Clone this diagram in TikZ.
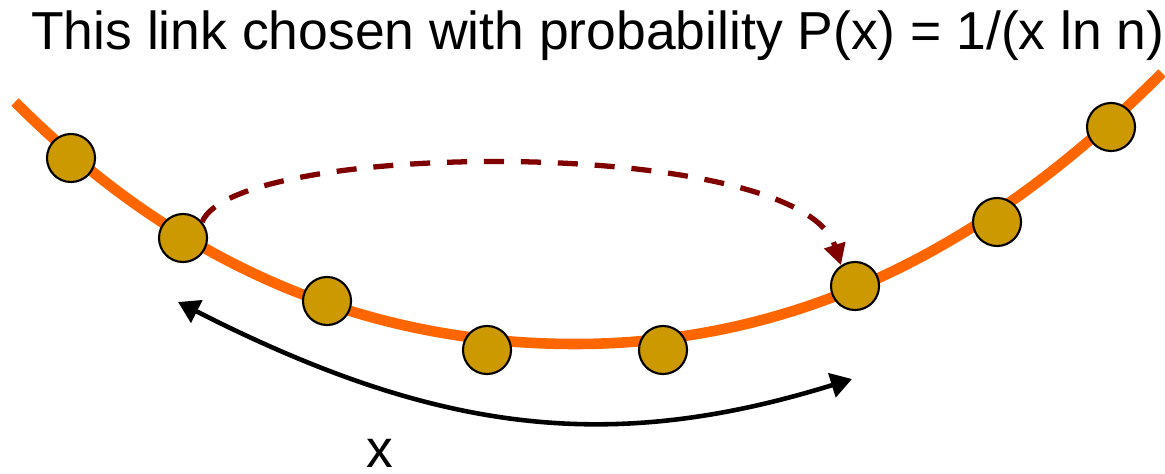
\documentclass[tikz,border=0pt]{standalone}
\usepackage{fontspec}
\setmainfont{Liberation Sans}
\usetikzlibrary{arrows.meta,backgrounds}
\definecolor{ringorange}{HTML}{FF6600}
\definecolor{peergold}{HTML}{CC9900}
\definecolor{linkred}{HTML}{800000}
\tikzset{
  peer/.style={circle, draw=black, line width=0.6pt, fill=peergold, minimum size=0.48cm, inner sep=0pt},
  ring/.style={ringorange, line width=3pt},
  longlink/.style={linkred, line width=1.5pt, dash pattern=on 5.7pt off 4.8pt, -{Triangle[length=6pt,width=6pt]}},
  span/.style={black, line width=1.3pt, {Triangle[length=6pt,width=7pt]}-{Triangle[length=6pt,width=7pt]}},
  label/.style={font=\fontsize{15.2}{18}\selectfont}
}
\begin{document}
\begin{tikzpicture}[x=0.01cm, y=-0.01cm]
  \useasboundingbox (0,0) rectangle (1165,473);
  \node[peer] (n1) at (71,158) {};
  \node[peer] (n2) at (183,238) {};
  \node[peer] (n3) at (327,301) {};
  \node[peer] (n4) at (487,350) {};
  \node[peer] (n5) at (663,350) {};
  \node[peer] (n6) at (855,286) {};
  \node[peer] (n7) at (997,222) {};
  \node[peer] (n8) at (1111,127) {};
  \coordinate (start) at (15,102);
  \coordinate (bottom) at (575,344);
  \coordinate (stop) at (1162,73);
  \begin{scope}[on background layer]
    \draw[ring] (start) .. controls (145,232) and (325,344) .. (bottom)
                        .. controls (825,344) and (1012,223) .. (stop);
  \end{scope}
  \draw[longlink] (n2.40) .. controls (235,140) and (800,135) .. (n6.124);
  \coordinate (xl) at (178,302);
  \coordinate (xr) at (852,379);
  \draw[span] (xl) .. controls (438,434) and (610,454) .. (xr);
  \node[label, anchor=base] (title) at (598,50) {This link chosen with probability P(x) = 1/(x ln n)};
  \node[label, anchor=base] (xlab) at (380,467) {x};
\end{tikzpicture}
\end{document}
